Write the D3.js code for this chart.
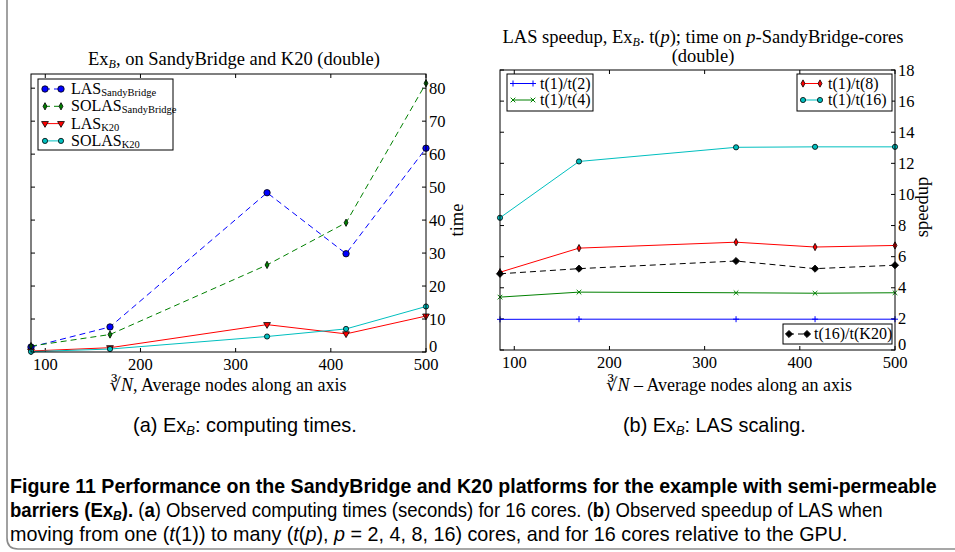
<!DOCTYPE html>
<html>
<head>
<meta charset="utf-8">
<script src="https://cdn.jsdelivr.net/npm/d3@7"></script>
<style>
  body { margin: 0; background: #fff; }
  svg text { font-family: "Liberation Serif", "DejaVu Serif", serif; fill: #000; }
  .cap { font-family: "Liberation Sans Narrow", "Liberation Sans", "Open Sans", sans-serif; }
</style>
</head>
<body>
<div id="chart"></div>
<script>
// x positions (cube root of N)
const nodes = [85, 168, 333, 416, 500];
const xTicks = [100, 200, 300, 400, 500];

// (a) computing times
const lasSandy = [1.5, 7.6, 48.3, 29.8, 61.8];
const solasSandy = [1.8, 5.3, 26.4, 39.2, 81.5];
const lasK20 = [0.3, 1.3, 8.3, 5.5, 10.9];
const solasK20 = [0.1, 0.9, 4.7, 7.0, 13.8];
const timeTicks = [0, 10, 20, 30, 40, 50, 60, 70, 80];

// (b) speedup
const sp2 = [1.97, 1.98, 1.98, 1.98, 1.98];
const sp4 = [3.4, 3.72, 3.68, 3.65, 3.68];
const sp8 = [5.0, 6.55, 6.93, 6.62, 6.72];
const sp16 = [8.5, 12.12, 13.03, 13.06, 13.06];
const spK20 = [4.9, 5.23, 5.72, 5.23, 5.45];
const speedTicks = [0, 2, 4, 6, 8, 10, 12, 14, 16, 18];

const W = 955, H = 552;
const svg = d3.select("#chart").append("svg")
  .attr("width", W).attr("height", H);

svg.append("rect").attr("width", W).attr("height", H).attr("fill", "#fff");

// page frame
svg.append("path")
  .attr("d", "M7,0 L7,538 Q7,549 18,549 L955,549")
  .attr("fill", "none").attr("stroke", "#8a8a8a").attr("stroke-width", 1.6);

// marker shapes
function marker(type, s) {
  switch (type) {
    case "circle": return d3.symbol(d3.symbolCircle, s * s * Math.PI)();
    case "tri": return `M${-s},${-s * 0.6}L${s},${-s * 0.6}L0,${s * 1.1}Z`;
    case "thin": return `M0,${-s * 1.3}L${s * 0.7},0L0,${s * 1.3}L${-s * 0.7},0Z`;
    case "diamond": return `M0,${-s}L${s},0L0,${s}L${-s},0Z`;
    case "plus": return `M${-s},0L${s},0M0,${-s}L0,${s}`;
    case "x": return `M${-s},${-s}L${s},${s}M${s},${-s}L${-s},${s}`;
  }
}

function drawMarker(g, type, size, color, x, y) {
  const open = type === "plus" || type === "x";
  g.append("path")
    .attr("d", marker(type, size))
    .attr("transform", `translate(${x},${y})`)
    .attr("fill", open ? "none" : color)
    .attr("stroke", open ? color : "#000")
    .attr("stroke-width", open ? 1 : 0.8);
}

function panel(o) {
  const g = svg.append("g");
  const x = d3.scaleLinear().domain([85, 500]).range([o.x0, o.x1]);
  const y = d3.scaleLinear().domain(o.yDomain).range([o.y1, o.y0]);

  // ticks (inward, all four sides)
  const tl = 4;
  xTicks.forEach(t => {
    g.append("line").attr("x1", x(t)).attr("x2", x(t)).attr("y1", o.y1).attr("y2", o.y1 - tl).attr("stroke", "#000");
    g.append("line").attr("x1", x(t)).attr("x2", x(t)).attr("y1", o.y0).attr("y2", o.y0 + tl).attr("stroke", "#000");
    g.append("text").attr("x", x(t)).attr("y", o.y1 + 18).attr("text-anchor", "middle")
      .attr("font-size", 16.5).text(t);
  });
  o.yTicks.forEach(t => {
    g.append("line").attr("x1", o.x0).attr("x2", o.x0 + tl).attr("y1", y(t)).attr("y2", y(t)).attr("stroke", "#000");
    g.append("line").attr("x1", o.x1).attr("x2", o.x1 - tl).attr("y1", y(t)).attr("y2", y(t)).attr("stroke", "#000");
    g.append("text").attr("x", o.x1 + 3).attr("y", y(t) + (t === 0 ? 0 : 5.5)).attr("font-size", 16.5).text(t);
  });

  // series
  const line = d3.line().x((d, i) => x(nodes[i])).y(d => y(d));
  const clip = "clip" + o.id;
  svg.append("clipPath").attr("id", clip).append("rect")
    .attr("x", o.x0).attr("y", o.y0).attr("width", o.x1 - o.x0).attr("height", o.y1 - o.y0);
  o.series.forEach(s => {
    g.append("path").datum(s.values).attr("d", line)
      .attr("clip-path", `url(#${clip})`)
      .attr("fill", "none").attr("stroke", s.color).attr("stroke-width", 1)
      .attr("stroke-dasharray", s.dash ? "6,4" : null);
  });
  o.series.forEach(s => {
    s.values.forEach((v, i) => drawMarker(g, s.marker, s.size, s.color, x(nodes[i]), y(v)));
  });

  // frame
  g.append("rect").attr("x", o.x0).attr("y", o.y0)
    .attr("width", o.x1 - o.x0).attr("height", o.y1 - o.y0)
    .attr("fill", "none").attr("stroke", "#000").attr("stroke-width", 1);

  // legends
  o.legends.forEach(L => {
    g.append("rect").attr("x", L.x).attr("y", L.y).attr("width", L.w).attr("height", L.h)
      .attr("fill", "#fff").attr("stroke", "#000").attr("stroke-width", 1);
    L.items.forEach((k, j) => {
      const s = o.series[k];
      const yy = L.y + L.first + j * L.step;
      g.append("line").attr("x1", L.x + L.s0).attr("x2", L.x + L.s1).attr("y1", yy).attr("y2", yy)
        .attr("stroke", s.color).attr("stroke-width", 1).attr("stroke-dasharray", s.dash ? "5,4" : null);
      drawMarker(g, s.marker, s.size, s.color, L.x + L.s0, yy);
      drawMarker(g, s.marker, s.size, s.color, L.x + L.s1, yy);
      const t = g.append("text").attr("x", L.x + L.tx).attr("y", yy + 5).attr("font-size", 16);
      t.append("tspan").text(s.name);
      if (s.sub) t.append("tspan").attr("dy", 2).attr("font-size", 10.5).text(s.sub);
    });
  });
  return { g, x, y };
}

// (a)
const a = panel({
  id: "a", x0: 31, x1: 426, y0: 74, y1: 352, yDomain: [0, 84.3], yTicks: timeTicks,
  series: [
    { name: "LAS", sub: "SandyBridge", values: lasSandy, color: "#0000ff", dash: true, marker: "circle", size: 3.2 },
    { name: "SOLAS", sub: "SandyBridge", values: solasSandy, color: "#008000", dash: true, marker: "thin", size: 2.8 },
    { name: "LAS", sub: "K20", values: lasK20, color: "#ff0000", dash: false, marker: "tri", size: 3.4 },
    { name: "SOLAS", sub: "K20", values: solasK20, color: "#00bfbf", dash: false, marker: "circle", size: 2.6 }
  ],
  legends: [{ x: 38, y: 79, w: 135, h: 71, first: 10, step: 17.3, s0: 7, s1: 23, tx: 33, items: [0, 1, 2, 3] }]
});

// (b)
const b = panel({
  id: "b", x0: 500, x1: 895, y0: 70, y1: 350, yDomain: [0, 18], yTicks: speedTicks,
  series: [
    { name: "t(1)/t(2)", values: sp2, color: "#0000ff", dash: false, marker: "plus", size: 3 },
    { name: "t(1)/t(4)", values: sp4, color: "#008000", dash: false, marker: "x", size: 2.3 },
    { name: "t(1)/t(8)", values: sp8, color: "#ff0000", dash: false, marker: "thin", size: 2.8 },
    { name: "t(1)/t(16)", values: sp16, color: "#00bfbf", dash: false, marker: "circle", size: 2.6 },
    { name: "t(16)/t(K20)", values: spK20, color: "#000000", dash: true, marker: "diamond", size: 3.6 }
  ],
  legends: [
    { x: 507, y: 74, w: 86, h: 37, first: 9.5, step: 16.5, s0: 6, s1: 26, tx: 33, items: [0, 1] },
    { x: 797, y: 74, w: 95, h: 37, first: 9.5, step: 16.5, s0: 6, s1: 23, tx: 31, items: [2, 3] },
    { x: 783, y: 324, w: 109, h: 20, first: 10, step: 0, s0: 6, s1: 24, tx: 31, items: [4] }
  ]
});

// titles and axis labels
const ta = svg.append("text").attr("x", 234).attr("y", 65).attr("text-anchor", "middle").attr("font-size", 18.5);
ta.append("tspan").text("Ex");
ta.append("tspan").attr("dy", 3).attr("font-size", 12).attr("font-style", "italic").text("B");
ta.append("tspan").attr("dy", -3).text(", on SandyBridge and K20 (double)");

const tb = svg.append("text").attr("x", 703).attr("y", 43).attr("text-anchor", "middle").attr("font-size", 18.5);
tb.append("tspan").text("LAS speedup, Ex");
tb.append("tspan").attr("dy", 3).attr("font-size", 12).attr("font-style", "italic").text("B");
tb.append("tspan").attr("dy", -3).text(". t(");
tb.append("tspan").attr("font-style", "italic").text("p");
tb.append("tspan").text("); time on ");
tb.append("tspan").attr("font-style", "italic").text("p");
tb.append("tspan").text("-SandyBridge-cores");
svg.append("text").attr("x", 703).attr("y", 62).attr("text-anchor", "middle").attr("font-size", 18.5).text("(double)");

svg.append("text").attr("transform", "translate(463,220) rotate(-90)").attr("text-anchor", "middle")
  .attr("font-size", 18.5).text("time");
svg.append("text").attr("transform", "translate(928,207) rotate(-90)").attr("text-anchor", "middle")
  .attr("font-size", 18.5).text("speedup");

const xa = svg.append("text").attr("x", 228).attr("y", 391).attr("text-anchor", "middle").attr("font-size", 18);
xa.append("tspan").text("∛");
xa.append("tspan").attr("font-style", "italic").text("N");
xa.append("tspan").text(", Average nodes along an axis");

const xb = svg.append("text").attr("x", 729).attr("y", 391).attr("text-anchor", "middle").attr("font-size", 18);
xb.append("tspan").text("∛");
xb.append("tspan").attr("font-style", "italic").text("N");
xb.append("tspan").text(" – Average nodes along an axis");

// caption text squeezed horizontally to the measured width
function fit(t, x, y, width) {
  const w = t.node().getComputedTextLength();
  t.attr("transform", `translate(${x},${y}) scale(${width / w},1)`);
}

function subcap(x, len, label, rest) {
  const t = svg.append("text").attr("class", "cap").attr("font-size", 20);
  t.append("tspan").text(label + " Ex");
  t.append("tspan").attr("dy", 3).attr("font-size", 13).attr("font-style", "italic").text("B");
  t.append("tspan").attr("dy", -3).text(rest);
  fit(t, x, 432, len);
}
subcap(133, 224, "(a)", ": computing times.");
subcap(623, 183, "(b)", ": LAS scaling.");

// figure caption
const c1 = svg.append("text").attr("class", "cap").attr("font-size", 20).attr("font-weight", "bold")
  .text("Figure 11  Performance on the SandyBridge and K20 platforms for the example with semi-permeable");
fit(c1, 10, 493, 927);

const c2 = svg.append("text").attr("class", "cap").attr("font-size", 20);
c2.append("tspan").attr("font-weight", "bold").text("barriers (Ex");
c2.append("tspan").attr("font-weight", "bold").attr("font-style", "italic").attr("dy", 3).attr("font-size", 13).text("B");
c2.append("tspan").attr("font-weight", "bold").attr("dy", -3).text(").");
c2.append("tspan").text(" (");
c2.append("tspan").attr("font-weight", "bold").text("a");
c2.append("tspan").text(") Observed computing times (seconds) for 16 cores. (");
c2.append("tspan").attr("font-weight", "bold").text("b");
c2.append("tspan").text(") Observed speedup of LAS when");
fit(c2, 10, 517, 873);

const c3 = svg.append("text").attr("class", "cap").attr("font-size", 20);
c3.append("tspan").text("moving from one (");
c3.append("tspan").attr("font-style", "italic").text("t");
c3.append("tspan").text("(1)) to many (");
c3.append("tspan").attr("font-style", "italic").text("t");
c3.append("tspan").text("(");
c3.append("tspan").attr("font-style", "italic").text("p");
c3.append("tspan").text("), ");
c3.append("tspan").attr("font-style", "italic").text("p");
c3.append("tspan").text(" = 2, 4, 8, 16) cores, and for 16 cores relative to the GPU.");
fit(c3, 10, 541, 838);
</script>
</body>
</html>
